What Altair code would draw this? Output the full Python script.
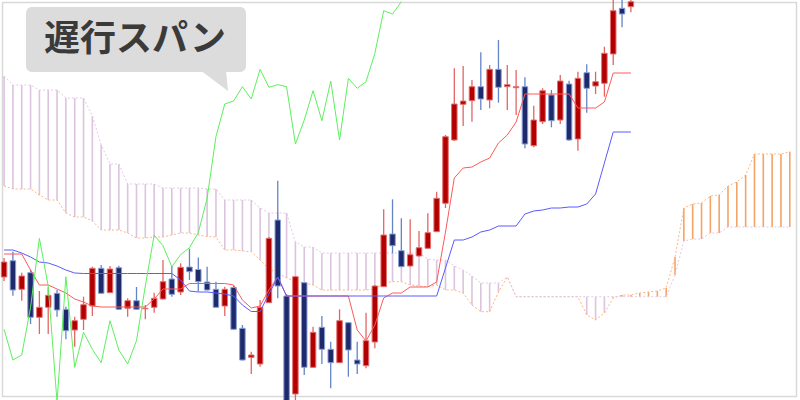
import altair as alt
import pandas as pd

# Ichimoku chart: candles, conversion / base lines, lagging span and the cloud.
FIRST = -1   # session number of the first entry of every per-session list
LAG = 26     # displacement used by the lagging span

opens = [123, 139.3, 110.7, 127.3, 82.7, 92.7, 106.7, 90.7, 70, 80.7, 94, 131.7, 107.3, 132.3,
         91.7, 99.3, 91.2, 92.7, 101, 121, 108, 133, 130.5, 118, 110.7, 94, 112.5, 71.7, 42.7,
         36, 97.3, 180, 104, 6, 117.3, 32.7, 72.7, 50.7, 37.3, 77.3, 40, 34.3, 58, 113.3, 166,
         149.3, 134, 144, 151.7, 168.3, 196.7, 260, 295.7, 299.3, 313.3, 300, 330.7, 313.3,
         312.3, 313.3, 254.3, 278.3, 305, 280, 316, 261, 327.3, 314, 316.7, 346, 391.7, 393.3]
highs = [142, 148.3, 127.3, 130, 109, 112.7, 110, 93.3, 83.3, 103.3, 133.3, 135, 134, 134.3,
         101.7, 113, 95, 107.3, 140, 134, 136.7, 151.3, 142.5, 133.3, 118.3, 113.3, 114, 75,
         48.3, 100, 163, 219.3, 106, 124, 118, 73.3, 84, 58.3, 90.7, 78, 58.3, 87.3, 115, 190.7,
         200.7, 181.7, 180.7, 169, 186.7, 208.3, 265, 331.7, 334, 320, 347.7, 335, 360, 335,
         330, 322.7, 294.3, 311.7, 310, 325, 319.3, 328.3, 335.7, 328.3, 353.3, 405, 402, 403]
lows = [119, 104.3, 99.3, 76, 66, 66, 83.3, 60.7, 53.3, 70, 84, 106, 107, 90, 83.3, 90, 80.7,
        87.3, 100.5, 103.3, 105, 120, 108.5, 109.5, 92, 84, 70, 39.5, 26, 33.3, 97, 101.7, -6,
        -2, 25, 32, 36, 11.7, 37, 23.3, 26, 31.7, 51.7, 113, 146.7, 133, 133.5, 143.5, 151.5,
        168, 192, 259, 274, 278.3, 290, 291.7, 297.3, 290, 285, 251.7, 252.7, 276, 272.7, 276,
        259.3, 249.3, 287.3, 306, 303.3, 335, 372.7, 387.7]
closes = [138, 110, 124, 82.7, 92.7, 104.7, 90, 69.3, 79.3, 95.3, 131.7, 106.7, 131, 90.7, 99.3,
          90.7, 91.7, 101.7, 118.3, 105.7, 132.7, 128.3, 118.3, 110, 92.7, 110.7, 70.7, 40, 45,
          92.7, 161.7, 114, -2, 123.3, 32.7, 67.7, 50.7, 37.3, 79.3, 50, 36, 59.3, 114, 165,
          154.3, 133.3, 145.3, 152.3, 167.3, 201.7, 263.3, 296, 299, 313.3, 301, 330.7, 312.7,
          315.3, 313.3, 256, 280, 309.3, 279.3, 319, 260, 321.7, 311.7, 318.3, 346.7, 389.3,
          386, 398.3]

# conversion line (tenkan) and base line (kijun), sessions -1 .. 70
tenkan = ([146] * 3 + [130, 115, 115, 111, 107, 101, 98, 94] + [93] * 6 + [101] + [111] * 3
          + [116.5] * 5 + [115, 100, 92, 94, 110, 123] + [104] * 8
          + [70, 59, 75, 102, 107, 107, 113, 113, 113, 118, 168, 222, 232, 233, 238, 242, 257,
             265, 278]
          + [306] * 6 + [292, 292, 292, 298] + [327] * 3)
kijun = ([150, 150, 147, 143, 138, 137, 134, 130, 127] + [126.5] * 11
         + [120, 109, 108, 108, 107, 106, 104, 95, 88.5, 88.5, 106, 123] + [104] * 18
         + [132, 160, 160, 163, 168, 170, 174, 174, 174, 186, 189, 190, 192, 192, 193, 193,
            196, 206, 237, 268, 268, 268])

# leading spans A and B, already displaced forward (sessions -1 .. 88)
span_a = ([214, 211, 211, 211, 205, 200, 200, 187, 183, 183, 179, 170, 170, 170, 167]
          + [162, 162, 163, 163, 165, 167, 167, 165, 163.5, 163, 150, 150, 149, 148.3, 140,
             131, 127, 122]
          + [119, 117, 115] + [110] * 6
          + [111, 117, 118.3, 118.3, 115, 114, 113.3, 115, 110, 110, 107, 95, 88.3, 88.3, 108,
             123]
          + [103.3] * 8
          + [85, 80, 87, 102, 105, 105, 107, 108, 109, 112, 143, 192, 196, 197, 204, 205, 214,
             218, 225, 246, 246, 246, 246, 248.3])
span_b = ([324, 315, 315, 315, 310, 310, 310, 302, 302, 302, 284, 255, 236, 236] + [216] * 4
          + [212] * 5 + [211, 211] + [200] * 4 + [192] + [187] * 3 + [158, 153, 153]
          + [147] * 12 + [141, 140, 140, 134, 130, 124] + [117] * 3 + [123] + [103.3] * 18
          + [125, 159, 161, 161, 167, 167] + [173] * 8)

label = "遅行スパン"

sessions = list(range(FIRST, FIRST + len(opens)))
candles = pd.DataFrame({"s": sessions, "open": opens, "high": highs,
                        "low": lows, "close": closes})
mid = pd.DataFrame({"s": sessions, "tenkan": tenkan, "kijun": kijun})
lagging = pd.DataFrame({"s": [s - LAG for s in sessions[LAG:]], "v": closes[LAG:]})
cloud = pd.DataFrame({"s": list(range(FIRST, FIRST + len(span_a))), "a": span_a, "b": span_b})

xs = alt.Scale(domain=[-0.895, 88.59], nice=False, zero=False)
ys = alt.Scale(domain=[0, 400], nice=False, zero=False)
X = alt.X("s:Q", scale=xs, axis=None)


def Y(field):
    return alt.Y(f"{field}:Q", scale=ys, axis=None)


rising = "datum.close >= datum.open"

frame = alt.Chart(pd.DataFrame({"k": [0]})).mark_rect(
    filled=False, color="#d9d9d9", strokeWidth=1.5
).encode(x=alt.value(2.5), x2=alt.value(796.5), y=alt.value(2.5), y2=alt.value(396.5))

cloud_rules = alt.Chart(cloud).mark_rule(strokeWidth=1.6).encode(
    x=X, y=Y("a"), y2="b:Q",
    color=alt.condition("datum.a >= datum.b", alt.value("#f4a464"), alt.value("#dcc3df")),
)
line_a = alt.Chart(cloud).mark_line(color="#ffb585", strokeWidth=1, strokeDash=[2, 2]).encode(
    x=X, y=Y("a"))
line_b = alt.Chart(cloud).mark_line(color="#e6c8e8", strokeWidth=1, strokeDash=[2, 2]).encode(
    x=X, y=Y("b"))

wicks = alt.Chart(candles).mark_rule(strokeWidth=1.3).encode(
    x=X, y=Y("low"), y2="high:Q",
    color=alt.condition(rising, alt.value("#e46464"), alt.value("#6484c6")),
)
bodies = alt.Chart(candles).mark_bar(size=5.5, strokeWidth=1).encode(
    x=X, y=Y("open"), y2="close:Q",
    fill=alt.condition(rising, alt.value("#b20000"), alt.value("#1f2a6c")),
    stroke=alt.condition(rising, alt.value("#e27070"), alt.value("#86a0d6")),
)

tenkan_line = alt.Chart(mid).mark_line(color="#ff5858", strokeWidth=1).encode(x=X, y=Y("tenkan"))
kijun_line = alt.Chart(mid).mark_line(color="#5a5aff", strokeWidth=1).encode(x=X, y=Y("kijun"))
lag_line = alt.Chart(lagging).mark_line(color="#5cf05c", strokeWidth=1).encode(x=X, y=Y("v"))

callout_data = pd.DataFrame({"label": [label]})
bubble = alt.Chart(callout_data).mark_rect(cornerRadius=6, color="#dcdcdc").encode(
    x=alt.value(26), x2=alt.value(246), y=alt.value(7), y2=alt.value(72))
tail = alt.Chart(callout_data).mark_point(
    shape="M-1.4,-0.1L1.2,-0.1L1.4,2Z", size=400, filled=True,
    fill="#dcdcdc", opacity=1, strokeWidth=0,
).encode(x=alt.value(214), y=alt.value(71))
caption = alt.Chart(callout_data).mark_text(
    font="Noto Sans CJK JP", fontSize=36, fontWeight="bold", color="#3a3a3a",
    align="center", baseline="middle",
).encode(text="label:N", x=alt.value(135), y=alt.value(40))

chart = alt.layer(
    frame, cloud_rules, line_a, line_b, wicks, bodies,
    tenkan_line, kijun_line, lag_line, bubble, tail, caption,
).properties(
    width=800, height=400, padding=0, autosize="none", background="white"
).configure_view(strokeWidth=0)

chart.save("out.html", embed_options={"renderer": "svg", "actions": False})
